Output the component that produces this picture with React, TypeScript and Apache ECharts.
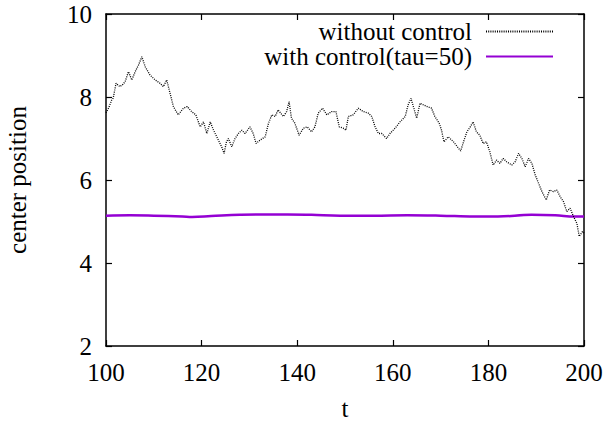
import React, { useEffect, useRef } from "react";
import * as echarts from "echarts";

// without control (black dotted)
const tWithout = [100, 100.6, 101.2, 101.5, 102.1, 102.9, 103.5, 104.0, 104.7, 105.4, 106.1, 106.8, 107.5, 108.2, 109.2, 110.3, 111.3, 112.0, 112.7, 113.4, 114.1, 115.1, 116.2, 117.0, 117.9, 118.8, 119.7, 120.4, 121.1, 121.8, 122.5, 123.5, 124.2, 124.7, 125.2, 125.6, 126.3, 127.0, 127.7, 128.4, 129.1, 130.1, 130.8, 131.4, 132.2, 133.3, 134.0, 134.7, 135.4, 136.0, 137.1, 137.8, 138.3, 138.8, 139.5, 140.4, 141.3, 142.1, 143.0, 143.7, 144.4, 145.3, 146.2, 147.2, 148.1, 148.8, 149.6, 150.2, 150.7, 151.7, 152.8, 153.8, 154.9, 155.6, 156.3, 157.0, 157.7, 158.7, 159.4, 160.5, 161.5, 162.6, 163.2, 163.8, 164.4, 165.0, 165.7, 166.4, 167.2, 168.1, 168.8, 169.7, 170.2, 170.7, 171.6, 172.7, 173.5, 174.2, 174.8, 175.5, 176.2, 176.8, 177.5, 178.2, 178.9, 179.6, 180.3, 181.0, 181.7, 182.4, 183.1, 183.8, 184.9, 185.6, 186.3, 187.0, 187.7, 188.4, 189.1, 189.8, 190.5, 191.2, 192.1, 192.8, 193.6, 194.3, 195.0, 195.7, 196.4, 197.1, 197.8, 198.5, 199.0, 199.7, 200];
const vWithout = [7.62, 7.75, 7.93, 7.97, 8.33, 8.25, 8.30, 8.37, 8.61, 8.41, 8.61, 8.77, 8.97, 8.73, 8.53, 8.41, 8.33, 8.25, 8.41, 8.09, 7.77, 7.57, 7.73, 7.77, 7.65, 7.57, 7.28, 7.40, 7.12, 7.40, 7.20, 6.96, 6.80, 6.64, 6.92, 7.00, 6.80, 7.00, 7.12, 7.20, 7.12, 7.28, 7.12, 6.88, 6.96, 7.04, 7.37, 7.57, 7.53, 7.69, 7.53, 7.65, 7.89, 7.49, 7.37, 7.08, 7.25, 7.28, 7.16, 7.28, 7.61, 7.73, 7.57, 7.65, 7.65, 7.28, 7.25, 7.20, 7.53, 7.57, 7.73, 7.65, 7.61, 7.53, 7.28, 7.12, 7.12, 7.00, 7.12, 7.25, 7.40, 7.53, 7.81, 7.97, 7.73, 7.49, 7.85, 7.81, 7.77, 7.73, 7.53, 7.37, 7.20, 6.92, 7.04, 6.92, 6.80, 6.70, 6.92, 7.16, 7.28, 7.40, 7.16, 7.08, 6.88, 6.92, 6.68, 6.36, 6.48, 6.40, 6.52, 6.44, 6.36, 6.44, 6.64, 6.52, 6.32, 6.52, 6.40, 6.12, 5.92, 5.72, 5.52, 5.76, 5.72, 5.76, 5.60, 5.48, 5.24, 5.32, 5.12, 4.96, 4.64, 4.76, 4.72];

// with control (purple)
const tWith = [100, 105, 110, 116, 118, 122, 128, 132, 138, 143, 149, 156, 163, 170, 177, 182, 189, 194, 198, 200];
const vWith = [5.14, 5.15, 5.14, 5.12, 5.11, 5.13, 5.16, 5.17, 5.17, 5.16, 5.14, 5.14, 5.15, 5.14, 5.12, 5.12, 5.16, 5.15, 5.12, 5.12];

const seriesNames = ["without control", "with control(tau=50)"];
const xTicks = { min: 100, max: 200, interval: 20 };
const yTicks = { min: 2, max: 10, interval: 2 };

const FONT = "Liberation Serif";
const FS = 25;

export default function App() {
  const ref = useRef<HTMLDivElement>(null);
  useEffect(() => {
    document.body.style.margin = "0";
    const chart = echarts.init(ref.current!, null, { renderer: "svg" });
    const axisLine = { show: true, lineStyle: { color: "#000", width: 1.5 } };
    const axisTick = { show: true, inside: true, length: 6, lineStyle: { color: "#000", width: 1.2 } };
    const label = { fontFamily: FONT, fontSize: FS, color: "#000", fontWeight: "normal" };
    const legendBase = {
      right: 51,
      align: "right",
      itemWidth: 67,
      itemHeight: 10,
      itemStyle: { opacity: 0 },
      textStyle: { fontFamily: FONT, fontSize: FS, color: "#000", fontWeight: "normal", padding: [0, 9, 0, 0] },
      selectedMode: false,
    };
    chart.setOption({
      animation: false,
      backgroundColor: "#fff",
      textStyle: { fontFamily: FONT, fontSize: FS, color: "#000" },
      grid: { left: 106, right: 26, top: 14, bottom: 77, containLabel: false, outerBoundsMode: "none" },
      legend: [
        { ...legendBase, data: [seriesNames[0]], top: 14 },
        { ...legendBase, data: [seriesNames[1]], top: 39 },
      ],
      xAxis: [
        {
          type: "value",
          ...xTicks,
          position: "bottom",
          name: "t",
          nameLocation: "middle",
          nameGap: 50,
          nameTextStyle: { ...label },
          axisLine,
          axisTick,
          axisLabel: { ...label, margin: 14 },
          splitLine: { show: false },
        },
        {
          type: "value",
          ...xTicks,
          position: "top",
          axisLine,
          axisTick,
          axisLabel: { show: false },
          splitLine: { show: false },
        },
      ],
      yAxis: [
        {
          type: "value",
          ...yTicks,
          position: "left",
          name: "center position",
          nameLocation: "middle",
          nameGap: 76,
          nameTextStyle: { ...label },
          axisLine,
          axisTick,
          axisLabel: { ...label, margin: 14 },
          splitLine: { show: false },
        },
        {
          type: "value",
          ...yTicks,
          position: "right",
          axisLine,
          axisTick,
          axisLabel: { show: false },
          splitLine: { show: false },
        },
      ],
      series: [
        {
          name: seriesNames[0],
          type: "line",
          data: tWithout.map((t, i) => [t, vWithout[i]]),
          showSymbol: false,
          symbol: "none",
          lineStyle: { color: "#000", width: 1.3, type: [1, 1.2] },
          itemStyle: { color: "#000" },
          z: 3,
        },
        {
          name: seriesNames[1],
          type: "line",
          data: tWith.map((t, i) => [t, vWith[i]]),
          showSymbol: false,
          symbol: "none",
          smooth: 0.4,
          lineStyle: { color: "#9400D3", width: 2.5 },
          itemStyle: { color: "#9400D3" },
          z: 2,
        },
      ],
    });
    return () => chart.dispose();
  }, []);
  return <div ref={ref} style={{ width: 610, height: 423 }} />;
}
